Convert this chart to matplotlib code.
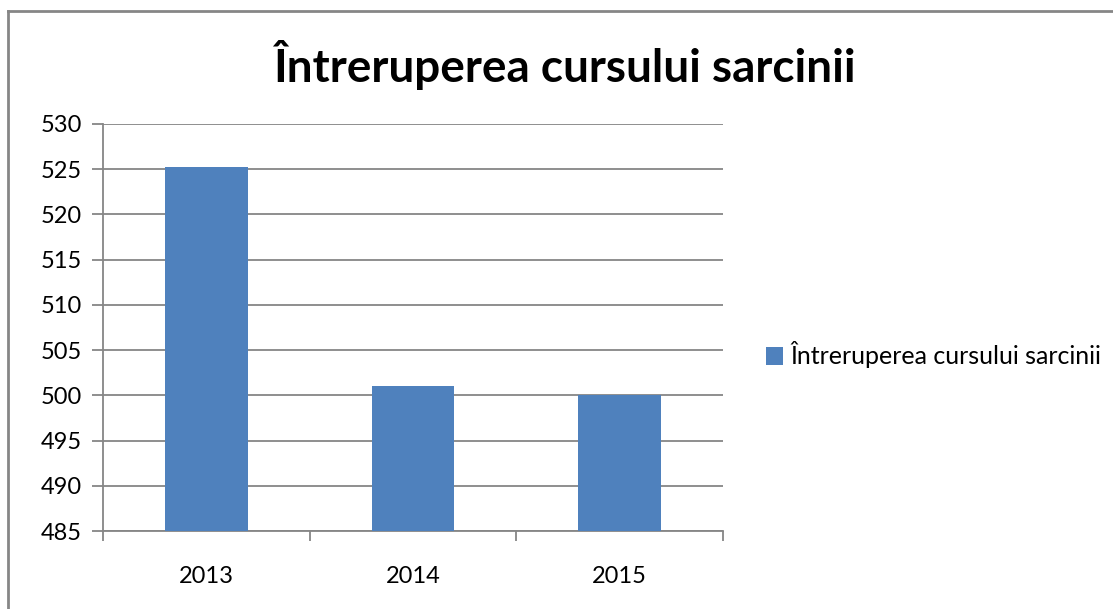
import numpy as np
import matplotlib
matplotlib.use("Agg")
import matplotlib.pyplot as plt
from matplotlib.lines import Line2D

years = ['2013', '2014', '2015']
values = [525.3, 501, 500]
series_name = 'Întreruperea cursului sarcinii'
title = 'Întreruperea cursului sarcinii'

plt.rcParams['font.family'] = ['Lato', 'DejaVu Sans']

W, H = 1113, 609
fig = plt.figure(figsize=(W / 100, H / 100), dpi=100)
ax = fig.add_axes([103 / W, 1 - 531 / H, (723 - 103) / W, (531 - 124) / H])

grey = '#868686'
x = np.arange(len(years))
ax.bar(x, values, width=0.4, color='#4F81BD', label=series_name, zorder=3)

ax.set_ylim(485, 530)
ax.set_xlim(-0.5, len(years) - 0.5)
ax.set_yticks(np.arange(485, 531, 5))
ax.yaxis.grid(True, color=grey, lw=1.3, zorder=0)

# category boundaries as major ticks, labels on minor ticks
ax.set_xticks(np.arange(-0.5, len(years), 1))
ax.set_xticklabels([])
ax.set_xticks(x, minor=True)
ax.set_xticklabels(years, minor=True)
ax.tick_params(axis='x', which='major', length=7, color=grey, width=1.3)
ax.tick_params(axis='x', which='minor', length=0, pad=25, labelsize=17)
ax.tick_params(axis='y', length=8, color=grey, width=1.3, labelsize=17, pad=7)

for s in ['top', 'right']:
    ax.spines[s].set_visible(False)
for s in ['left', 'bottom']:
    ax.spines[s].set_color(grey)
    ax.spines[s].set_linewidth(1.3)

fig.text(564 / W, 1 - 65 / H, title, ha='center', va='center',
         fontsize=33, fontweight='bold')

ax.legend(loc='center left', bbox_to_anchor=(743 / W, 1 - 355 / H),
          bbox_transform=fig.transFigure, frameon=False, fontsize=18,
          handlelength=0.7, handleheight=0.7, handletextpad=0.3)

# outer chart frame (cropped at right and bottom)
fig.add_artist(Line2D([8 / W, 1], [1 - 11 / H, 1 - 11 / H], color=grey, lw=2,
                      transform=fig.transFigure))
fig.add_artist(Line2D([8 / W, 8 / W], [0, 1 - 11 / H], color=grey, lw=2,
                      transform=fig.transFigure))

fig.savefig('out.png', dpi=100)
